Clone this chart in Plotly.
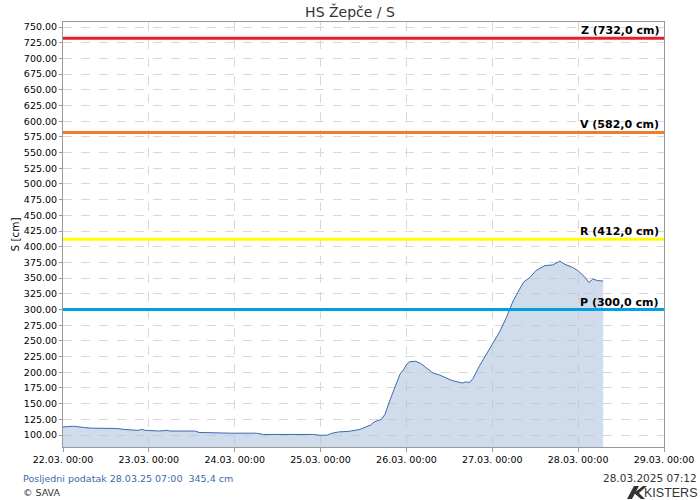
import plotly.graph_objects as go
import pandas as pd

# ---- data ----
times = [
    "2025-03-22 00:00", "2025-03-22 03:00", "2025-03-22 06:00", "2025-03-22 08:00",
    "2025-03-22 15:00", "2025-03-22 17:00", "2025-03-22 21:00", "2025-03-22 22:00",
    "2025-03-22 23:00", "2025-03-23 03:00", "2025-03-23 05:00", "2025-03-23 06:00",
    "2025-03-23 13:00", "2025-03-23 14:00", "2025-03-23 23:00", "2025-03-24 04:00",
    "2025-03-24 05:00", "2025-03-24 06:00", "2025-03-24 08:00", "2025-03-24 22:00",
    "2025-03-25 00:00", "2025-03-25 02:00", "2025-03-25 03:00", "2025-03-25 05:00",
    "2025-03-25 08:00", "2025-03-25 11:00", "2025-03-25 14:00", "2025-03-25 15:00",
    "2025-03-25 17:00", "2025-03-25 18:00", "2025-03-25 19:25", "2025-03-25 20:48",
    "2025-03-25 22:12", "2025-03-25 23:18", "2025-03-26 00:06", "2025-03-26 01:00",
    "2025-03-26 02:36", "2025-03-26 04:00", "2025-03-26 06:00", "2025-03-26 07:24",
    "2025-03-26 09:18", "2025-03-26 11:00", "2025-03-26 12:42", "2025-03-26 15:30",
    "2025-03-26 16:36", "2025-03-26 17:42", "2025-03-26 18:36", "2025-03-26 20:30",
    "2025-03-26 22:30", "2025-03-27 00:06", "2025-03-27 02:06", "2025-03-27 04:00",
    "2025-03-27 05:42", "2025-03-27 07:06", "2025-03-27 08:48", "2025-03-27 10:30",
    "2025-03-27 12:12", "2025-03-27 14:42", "2025-03-27 16:54", "2025-03-27 18:54",
    "2025-03-27 20:18", "2025-03-27 22:30", "2025-03-27 23:54", "2025-03-28 01:48",
    "2025-03-28 03:00", "2025-03-28 04:06", "2025-03-28 05:30", "2025-03-28 07:00",
]
levels = [
    113, 114, 112, 111,
    110.5, 109, 107.5, 109,
    107.5, 106.5, 107.4, 106.4,
    106.4, 104.2, 103, 103,
    102, 103, 101, 101,
    99.5, 100, 102.6, 105,
    106, 109, 116, 121,
    125, 133, 156, 177,
    197, 205, 213, 217,
    217.5, 214, 206, 199,
    195.6, 191, 187, 183,
    184.5, 184, 190, 211,
    230, 246, 265, 288,
    312, 327, 344, 351,
    362, 370, 371, 377,
    372, 367, 362, 352,
    343, 348.5, 346, 345.4,
]

threshold_names = ["Z", "V", "R", "P"]
threshold_values = [732.0, 582.0, 412.0, 300.0]
threshold_colors = ["#e3202a", "#f07c2a", "#ffff00", "#00a0e3"]

x_start, x_end = "2025-03-22 00:00", "2025-03-29 00:00"
tick_dates = pd.date_range("2025-03-22", "2025-03-29", freq="D")
y_ticks = list(range(100, 751, 25))

title_text = "HS Žepče / S"
y_title = "S [cm]"
footer_left = "Posljedni podatak 28.03.25 07:00  345,4 cm"
footer_copy = "© SAVA"
footer_date = "28.03.2025 07:12"

FONT = "DejaVu Sans"

fig = go.Figure()
fig.add_trace(go.Scatter(
    x=pd.to_datetime(times), y=levels, mode="lines",
    line=dict(color="#3d6aad", width=1),
    fill="tozeroy", fillcolor="rgba(176,196,222,0.6)",
    showlegend=False, hoverinfo="skip",
))

for name, val, col in zip(threshold_names, threshold_values, threshold_colors):
    fig.add_shape(type="line", xref="paper", x0=0, x1=1, yref="y", y0=val, y1=val,
                  line=dict(color=col, width=3), layer="above")
    label = f"{name} ({val:.1f} cm)".replace(".", ",")
    fig.add_annotation(xref="paper", x=0.995, yref="y", y=val, text=f"<b>{label}</b>",
                       showarrow=False, xanchor="right", yanchor="bottom", yshift=-1,
                       font=dict(family=FONT, size=11, color="#000"))

# plot area in pixels: left 63, right 664, top 22, bottom 447
L, R, T, B = 63, 664, 22, 447
def px(x):
    return (x - L) / (R - L)
def py(y):
    return (B - y) / (B - T)

fig.add_annotation(xref="paper", yref="paper", x=px(21), y=py(478), text=footer_left,
                   showarrow=False, xanchor="left", yanchor="middle",
                   font=dict(family=FONT, size=9.5, color="#3d6aad"))
fig.add_annotation(xref="paper", yref="paper", x=px(21), y=py(492), text=footer_copy,
                   showarrow=False, xanchor="left", yanchor="middle",
                   font=dict(family=FONT, size=9.5, color="#333"))
fig.add_annotation(xref="paper", yref="paper", x=px(699), y=py(478), text=footer_date,
                   showarrow=False, xanchor="right", yanchor="middle",
                   font=dict(family=FONT, size=10.5, color="#333"))
fig.add_annotation(xref="paper", yref="paper", x=px(700), y=py(493), text="KISTERS",
                   showarrow=False, xanchor="right", yanchor="middle",
                   font=dict(family="Liberation Sans Narrow, Liberation Sans", size=12.5, color="#333"))
# logo mark
fig.add_shape(type="path", xref="paper", yref="paper",
              path=f"M {px(627)},{py(499)} L {px(632)},{py(499)} L {px(639)},{py(486)} L {px(634)},{py(486)} Z",
              fillcolor="#333", line=dict(width=0))
fig.add_shape(type="path", xref="paper", yref="paper",
              path=(f"M {px(634)},{py(493)} L {px(643)},{py(486)} L {px(647)},{py(486)} "
                    f"L {px(639)},{py(493)} L {px(645)},{py(499)} L {px(641)},{py(499)} Z"),
              fillcolor="#333", line=dict(width=0))

fig.update_layout(
    width=700, height=500, autosize=False,
    margin=dict(l=L, r=700 - R, t=T, b=500 - B, autoexpand=False),
    paper_bgcolor="white", plot_bgcolor="white",
    title=dict(text=title_text, x=0.5, xanchor="center", y=1 - 12 / 500, yanchor="middle",
               font=dict(family=FONT, size=14, color="#333")),
    font=dict(family=FONT, color="#000"),
    xaxis=dict(
        type="date", range=[x_start, x_end], automargin=False,
        tickvals=tick_dates, ticktext=[d.strftime("%d.%m. %H:%M") for d in tick_dates],
        tickfont=dict(family=FONT, size=9.5, color="#000"),
        showgrid=True, gridcolor="#d8d8d8", griddash="dash", gridwidth=1,
        showline=True, linecolor="#999", linewidth=1, mirror=True,
        ticks="outside", ticklen=4, tickcolor="#999", zeroline=False,
    ),
    yaxis=dict(
        range=[81, 758], automargin=False, tickvals=y_ticks, ticktext=[f"{v:.2f}" for v in y_ticks],
        tickfont=dict(family=FONT, size=9.5, color="#000"),
        showgrid=True, gridcolor="#d8d8d8", griddash="dash", gridwidth=1,
        showline=True, linecolor="#999", linewidth=1, mirror=True,
        ticks="outside", ticklen=3, tickcolor="#999", zeroline=False,
        title=dict(text=y_title, font=dict(family=FONT, size=10.5, color="#000"), standoff=2),
    ),
)

fig.write_html("out.html", config={"displayModeBar": False},
               post_script="document.body.style.margin='0';document.body.style.overflow='hidden';")
